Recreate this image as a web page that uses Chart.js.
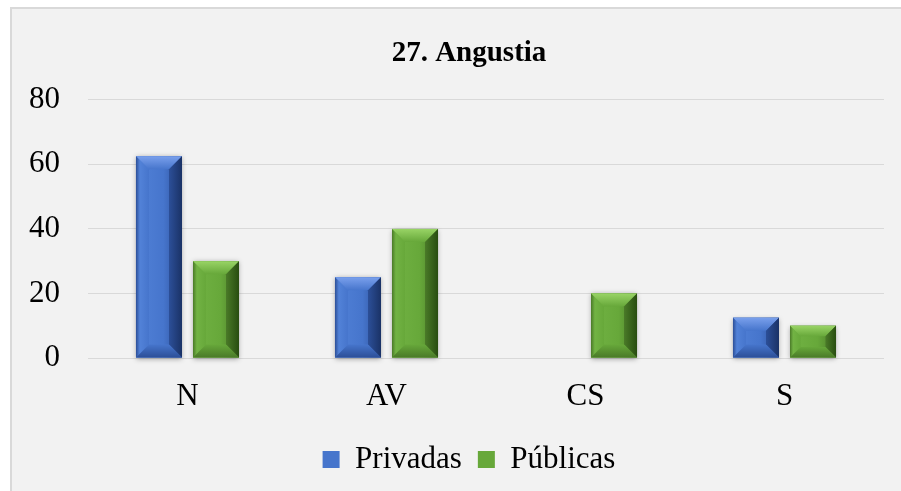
<!DOCTYPE html>
<html>
<head>
<meta charset="utf-8">
<script src="https://cdn.jsdelivr.net/npm/chart.js@4"></script>
<style>
  html, body { margin: 0; padding: 0; background: #fff; overflow: hidden; }
  #wrap { position: absolute; left: 0; top: 0; width: 940px; height: 491px; }
</style>
</head>
<body>
<div id="wrap"><canvas id="grafico"></canvas></div>
<script>
// dados
const categorias = ['N', 'AV', 'CS', 'S'];
const privadas = [62.5, 25, 0, 12.5];
const publicas = [30, 40, 20, 10];
const yTicks = [0, 20, 40, 60, 80];

const cores = {
  azul:  { face: '#4675cc', claro: '#7aa0ec', lado: '#5282d8', escuro: '#1a3266', base: '#2c4f98' },
  verde: { face: '#67a83a', claro: '#99d466', lado: '#72b344', escuro: '#284d10', base: '#4a7a28' }
};

const fonte = "'Liberation Serif', 'Times New Roman', serif";

// moldura cinza do gráfico (estilo Excel)
const moldura = {
  id: 'moldura',
  beforeDraw(chart) {
    const c = chart.ctx;
    c.save();
    c.fillStyle = '#ffffff';
    c.fillRect(0, 0, chart.width, chart.height);
    c.fillStyle = '#f2f2f2';
    c.fillRect(12, 9, chart.width, chart.height);
    c.strokeStyle = '#d9d9d9';
    c.lineWidth = 2;
    c.beginPath();
    c.moveTo(11, chart.height + 5);
    c.lineTo(11, 8);
    c.lineTo(chart.width + 5, 8);
    c.stroke();
    c.restore();
  }
};

// efeito chanfrado nas barras
function poly(c, pts, cor) {
  c.fillStyle = cor;
  c.beginPath();
  c.moveTo(pts[0][0], pts[0][1]);
  for (let i = 1; i < pts.length; i++) c.lineTo(pts[i][0], pts[i][1]);
  c.closePath();
  c.fill();
}

const chanfro = {
  id: 'chanfro',
  beforeDatasetsDraw(chart) {
    const c = chart.ctx;
    c.save();
    chart.data.datasets.forEach((ds, i) => {
      chart.getDatasetMeta(i).data.forEach(bar => {
        const h = bar.base - bar.y;
        if (h < 1) return;
        c.shadowColor = 'rgba(0,0,0,0.35)';
        c.shadowBlur = 5;
        c.shadowOffsetX = 0;
        c.shadowOffsetY = 1;
        c.fillStyle = '#bbbbbb';
        c.fillRect(bar.x - bar.width / 2, bar.y, bar.width, h);
      });
    });
    c.restore();
  },
  afterDatasetsDraw(chart) {
    const c = chart.ctx;
    c.save();
    chart.data.datasets.forEach((ds, i) => {
      const cor = ds.cor;
      chart.getDatasetMeta(i).data.forEach(bar => {
        const h = bar.base - bar.y;
        if (h < 1) return;
        const l = bar.x - bar.width / 2, r = bar.x + bar.width / 2;
        const t = bar.y, b = bar.base;
        const bv = Math.min(13, bar.width / 3.5, h / 3);
        const g = c.createLinearGradient(l, 0, r, 0);
        g.addColorStop(0, cor.lado);
        g.addColorStop(0.6, cor.face);
        g.addColorStop(1, cor.base);
        c.fillStyle = g;
        c.fillRect(l, t, bar.width, h);
        const gt = c.createLinearGradient(0, t, 0, t + bv);
        gt.addColorStop(0, cor.claro);
        gt.addColorStop(1, cor.face);
        poly(c, [[l, t], [r, t], [r - bv, t + bv], [l + bv, t + bv]], gt);
        const gl = c.createLinearGradient(l, 0, l + bv, 0);
        gl.addColorStop(0, cor.base);
        gl.addColorStop(0.3, cor.lado);
        gl.addColorStop(1, cor.face);
        poly(c, [[l, t], [l + bv, t + bv], [l + bv, b - bv], [l, b]], gl);
        const gr = c.createLinearGradient(r - bv, 0, r, 0);
        gr.addColorStop(0, cor.base);
        gr.addColorStop(1, cor.escuro);
        poly(c, [[r, t], [r - bv, t + bv], [r - bv, b - bv], [r, b]], gr);
        const gb = c.createLinearGradient(0, b - bv, 0, b);
        gb.addColorStop(0, cor.face);
        gb.addColorStop(1, cor.base);
        poly(c, [[l, b], [l + bv, b - bv], [r - bv, b - bv], [r, b]], gb);
      });
    });
    c.restore();
  }
};

const ctx = document.getElementById('grafico');

new Chart(ctx, {
  type: 'bar',
  data: {
    labels: categorias,
    datasets: [
      {
        label: 'Privadas',
        data: privadas,
        backgroundColor: cores.azul.face,
        cor: cores.azul,
        borderWidth: 0
      },
      {
        label: 'Públicas',
        data: publicas,
        backgroundColor: cores.verde.face,
        cor: cores.verde,
        borderWidth: 0
      }
    ]
  },
  options: {
    responsive: true,
    maintainAspectRatio: false,
    animation: false,
    devicePixelRatio: 1,
    categoryPercentage: 0.573,
    barPercentage: 0.807,
    layout: { padding: { left: 12, right: 14, top: 9, bottom: 6 } },
    scales: {
      x: {
        grid: { display: false },
        border: { display: false },
        ticks: { color: '#000', font: { family: fonte, size: 31 }, padding: 12 },
        afterFit(scale) { scale.height = 70; }
      },
      y: {
        min: 0,
        max: 80,
        afterBuildTicks(scale) { scale.ticks = yTicks.map(v => ({ value: v })); },
        grid: { color: '#d9d9d9', lineWidth: 1, drawTicks: false },
        border: { display: false },
        ticks: { color: '#000', font: { family: fonte, size: 31 }, padding: 28 },
        afterFit(scale) { scale.width = 76; }
      },
      direita: {
        position: 'right',
        display: true,
        grid: { display: false, drawTicks: false },
        border: { display: false },
        ticks: { display: false },
        afterFit(scale) { scale.width = 42; }
      }
    },
    plugins: {
      title: {
        display: true,
        text: '27. Angustia',
        color: '#000',
        font: { family: fonte, size: 29, weight: 'bold' },
        padding: { top: 27, bottom: 29 }
      },
      legend: {
        display: true,
        position: 'bottom',
        labels: {
          color: '#000',
          font: { family: fonte, size: 31 },
          boxWidth: 17,
          boxHeight: 17,
          padding: 16
        }
      },
      tooltip: { enabled: false }
    }
  },
  plugins: [moldura, chanfro]
});
</script>
</body>
</html>
